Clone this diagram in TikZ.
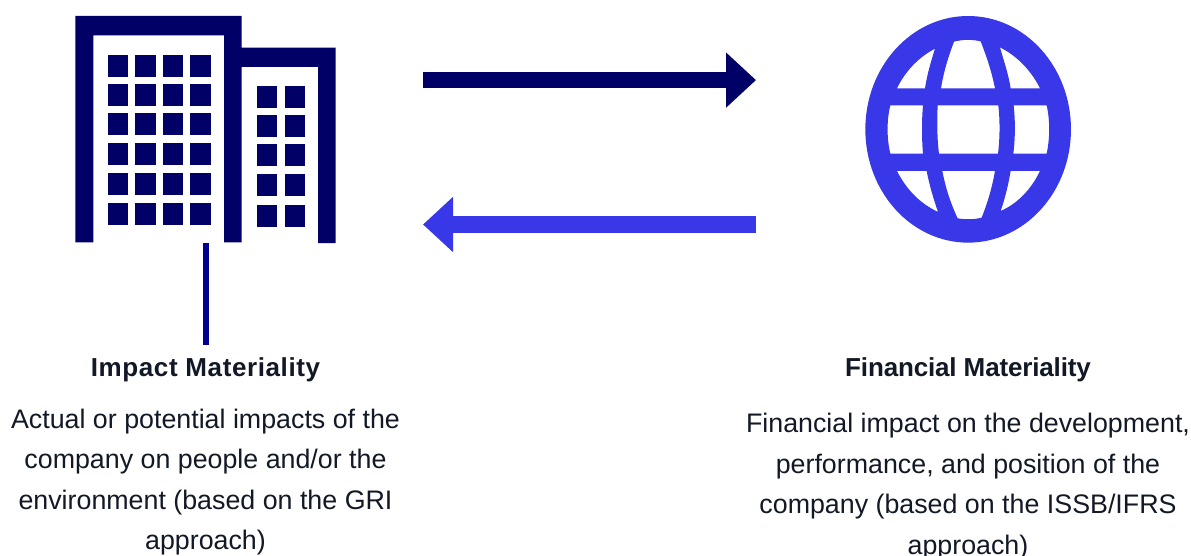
\documentclass[tikz,border=0pt]{standalone}
\usepackage{fontspec}
\setmainfont{Liberation Sans}
\usetikzlibrary{arrows.meta}
\definecolor{navyc}{HTML}{000066}
\definecolor{bluec}{HTML}{3838E8}
\definecolor{linec}{HTML}{00008F}
\definecolor{textc}{HTML}{121826}
\tikzset{
  win/.style={fill=navyc,draw=none},
  bigarrow/.style={line width=16.4pt,-{Triangle[length=30pt,width=53.4pt]}},
  head/.style={font=\fontsize{26}{30}\selectfont\bfseries,text=textc,anchor=base,inner sep=0pt},
  body/.style={font=\fontsize{26.8}{40.6}\selectfont,text=textc,align=center,anchor=base,inner sep=0pt},
}
\begin{document}
\begin{tikzpicture}[x=1pt,y=-1pt]
\useasboundingbox (0,0) rectangle (1191,556);
% building
\fill[navyc] (75.3,242.3) -- (75.3,16) -- (241.7,16) -- (241.7,47.7) -- (335.7,47.7) -- (335.7,243) -- (318,243) -- (318,67) -- (241.7,67) -- (241.7,242.3) -- (224,242.3) -- (224,35.3) -- (93.3,35.3) -- (93.3,242.3) -- cycle;
\begin{scope}[shift={(60,0)},x=0.3333pt,y=-0.3333pt]
\foreach \xa/\xb in {144/204,226/287,309/368,391/452}
  \foreach \ya/\yb in {165/231,252/318,339/405,429/495,519/585,608/674}
    \fill[win] (\xa,\ya) rectangle (\xb,\yb);
\foreach \xa/\xb in {591/651,675/734}
  \foreach \ya/\yb in {259/325,346/412,433/499,522/588,614/680}
    \fill[win] (\xa,\ya) rectangle (\xb,\yb);
\end{scope}
% globe
\begin{scope}[shift={(850,0)},x=0.3333pt,y=-0.3333pt]
\fill[bluec,even odd rule]
  (354.5,388) ellipse [x radius=308.5,y radius=340]
  (255,146) .. controls (205,172) and (165,215) .. (141,265) -- (225,265) .. controls (232,220) and (243,185) .. cycle
  (312,125) .. controls (340,118) and (365,118) .. (392,124) .. controls (410,170) and (425,215) .. (435,265) -- (273,265) .. controls (281,215) and (295,170) .. cycle
  (450,142) .. controls (505,170) and (545,215) .. (570,265) -- (482,265) .. controls (475,220) and (462,185) .. cycle
  (121,316) -- (219,316) .. controls (215,360) and (215,415) .. (219,461) -- (121,461) .. controls (110,415) and (110,360) .. cycle
  (263,316) -- (445,316) .. controls (450,360) and (450,415) .. (444,461) -- (267,461) .. controls (261,415) and (261,360) .. cycle
  (491,316) -- (590,316) .. controls (600,360) and (600,415) .. (590,461) -- (490,461) .. controls (496,415) and (496,360) .. cycle
  (141,513) -- (230,513) .. controls (238,555) and (250,595) .. (264,636) .. controls (210,610) and (170,570) .. cycle
  (277,513) -- (435,513) .. controls (426,565) and (412,610) .. (395,653) .. controls (372,659) and (345,659) .. (323,655) .. controls (302,610) and (287,565) .. cycle
  (482,513) -- (570,513) .. controls (545,565) and (505,610) .. (452,633) .. controls (465,595) and (475,555) .. cycle;
\end{scope}
% coordinates
\coordinate (arrowAstart) at (422.6,80.1);
\coordinate (arrowAend) at (756,80.1);
\coordinate (arrowBstart) at (756.3,224.5);
\coordinate (arrowBend) at (423,224.5);
\coordinate (stemTop) at (205.7,243);
\coordinate (stemBottom) at (205.7,345);
% arrows
\draw[bigarrow,navyc] (arrowAstart) -- (arrowAend);
\draw[bigarrow,bluec] (arrowBstart) -- (arrowBend);
\draw[linec,line width=6pt] (stemTop) -- (stemBottom);
% text
\node[head] (impactTitle) at (205.5,376.7) {\addfontfeature{LetterSpace=2.3}Impact Materiality};
\node[head] (financeTitle) at (968,376.7) {\addfontfeature{LetterSpace=-0.6}Financial Materiality};
\node[body] (impactBody) at (205.5,549.8) {Actual or potential impacts of the\\company on people and/or the\\environment (based on the GRI\\approach)};
\node[body] (financeBody) at (968,554.3) {Financial impact on the development,\\performance, and position of the\\company (based on the ISSB/IFRS\\approach)};
\end{tikzpicture}
\end{document}
